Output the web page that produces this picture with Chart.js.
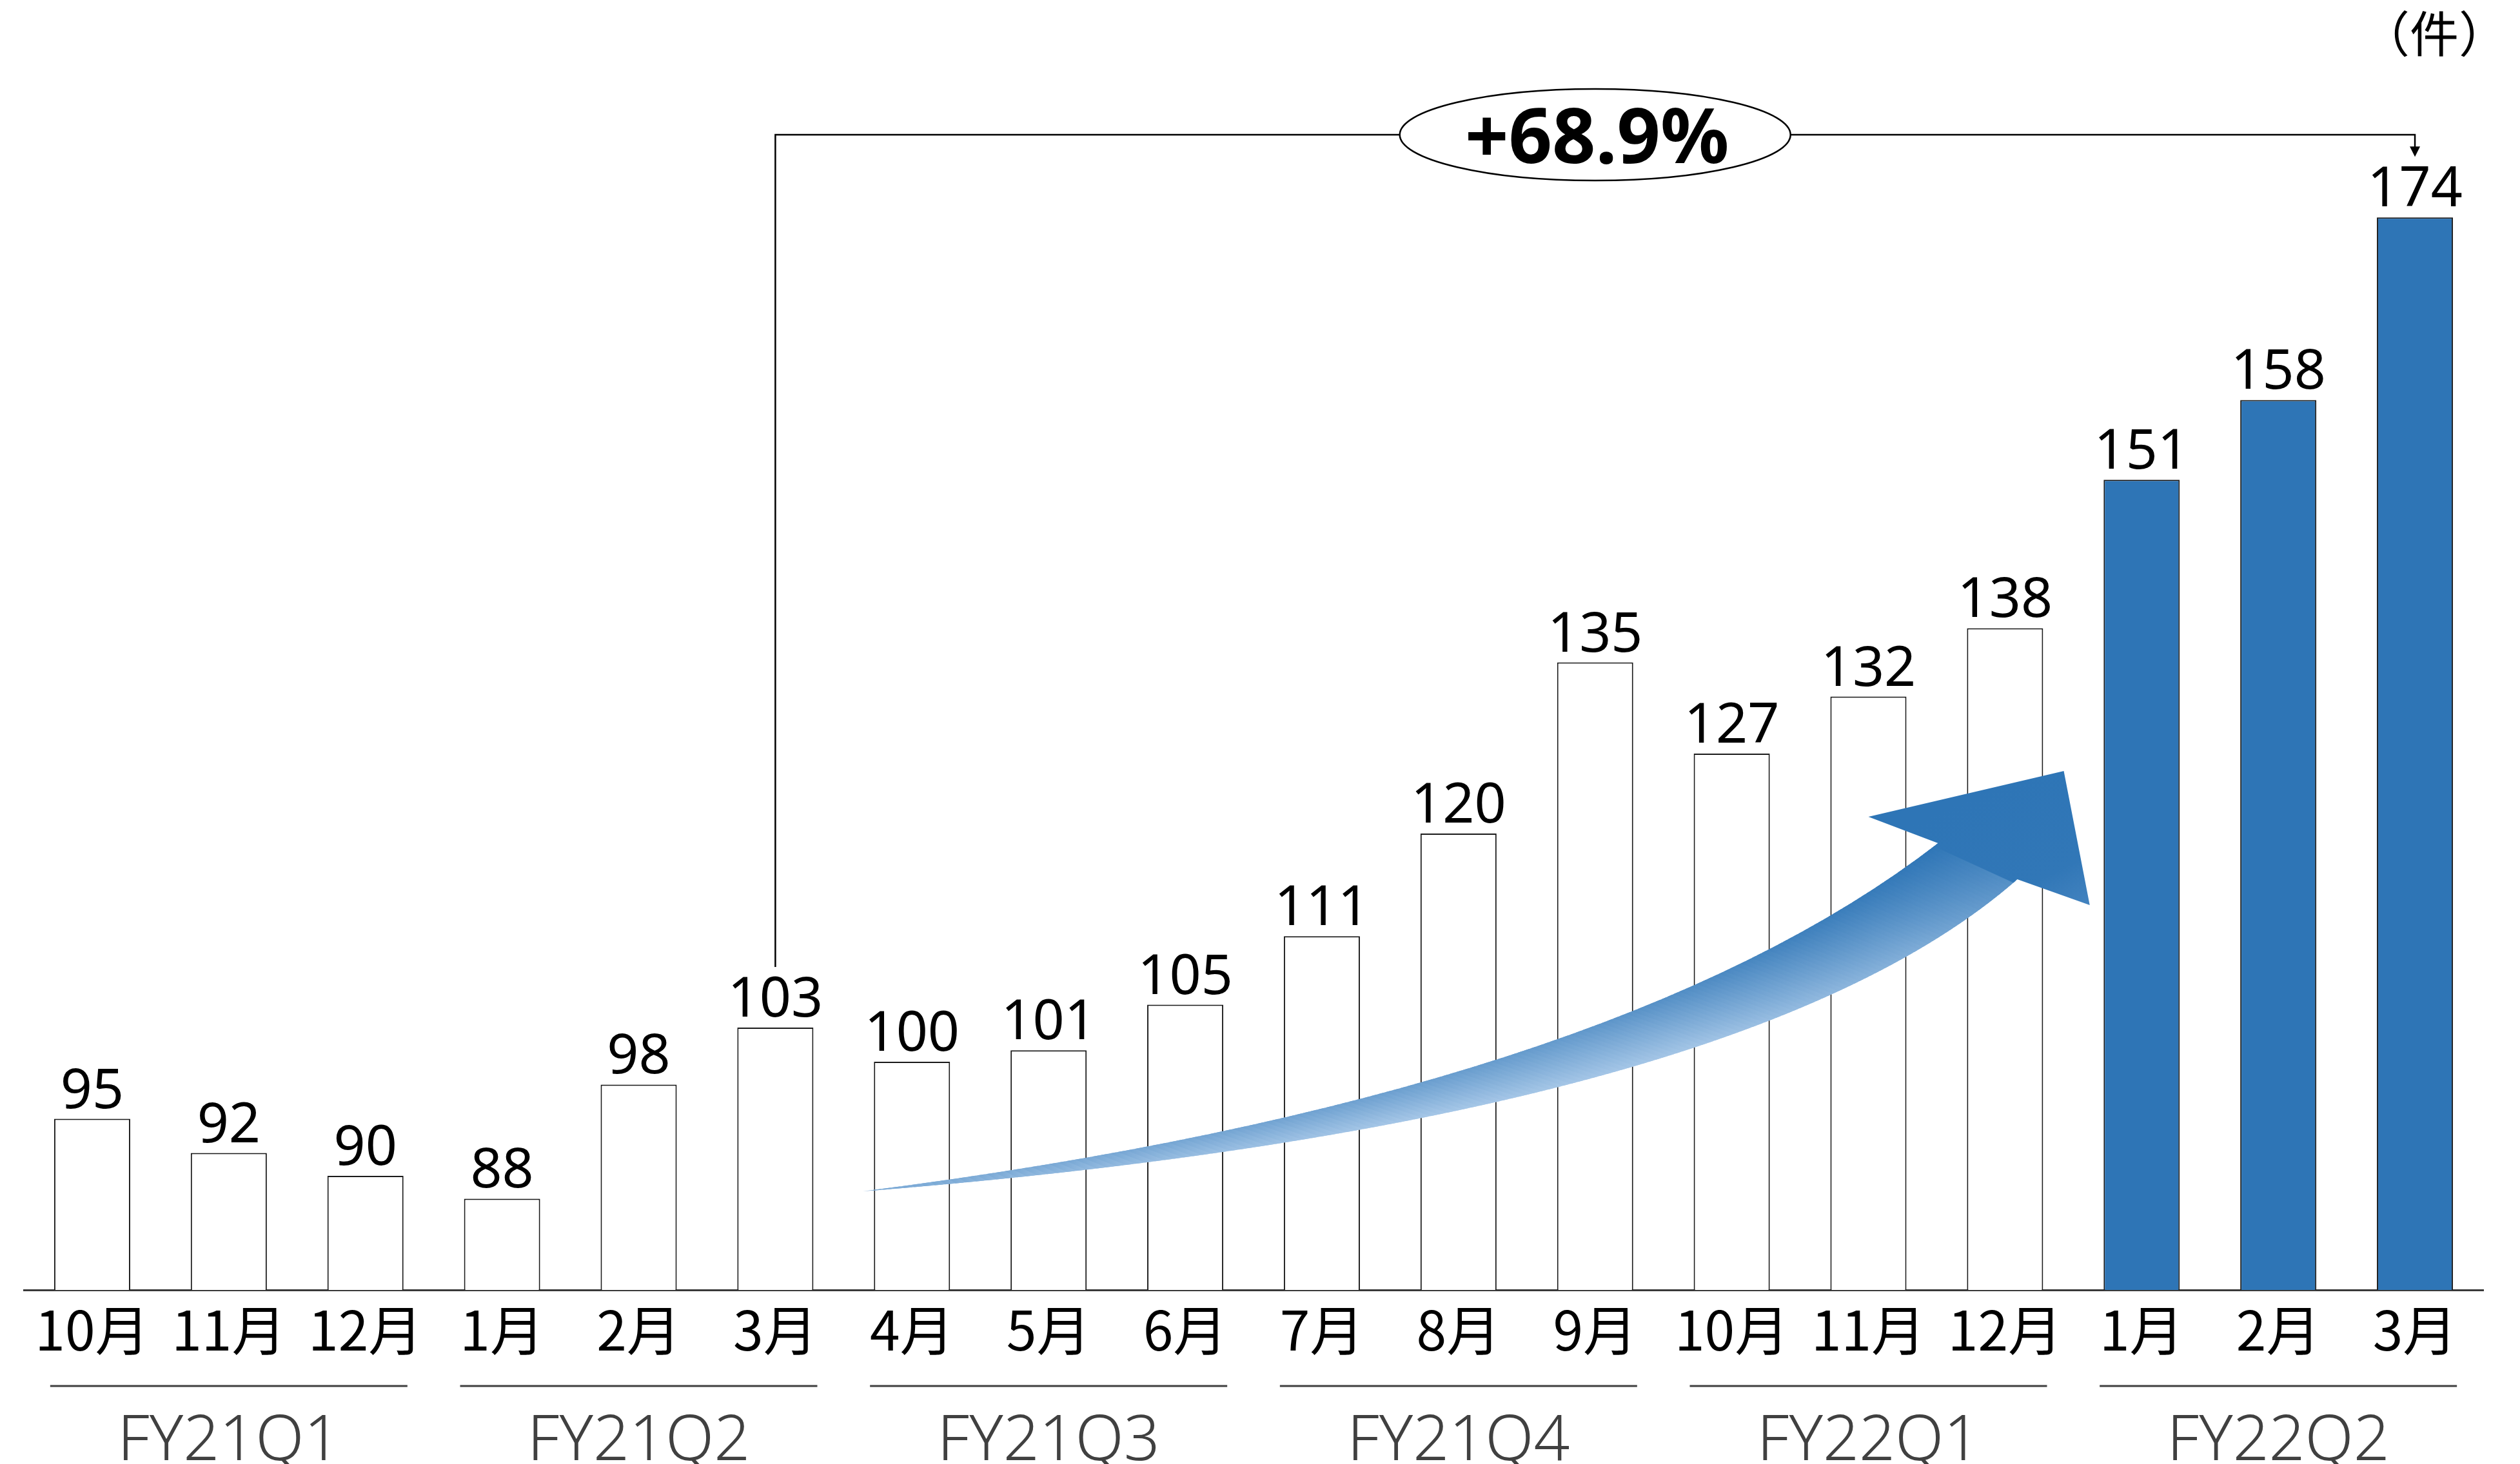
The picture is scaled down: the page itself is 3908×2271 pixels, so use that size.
<!DOCTYPE html>
<html lang="ja">
<head>
<meta charset="utf-8">
<title>月別件数の推移</title>
<script src="https://cdn.jsdelivr.net/npm/chart.js@4.4.1/dist/chart.umd.min.js"></script>
<style>
  html, body { margin: 0; padding: 0; background: #ffffff; }
  canvas { display: block; }
</style>
</head>
<body>
<canvas id="chart" width="3908" height="2271"></canvas>
<script>
// ---- data ----
const months = ['10月', '11月', '12月', '1月', '2月', '3月', '4月', '5月', '6月',
                '7月', '8月', '9月', '10月', '11月', '12月', '1月', '2月', '3月'];
const counts = [95, 92, 90, 88, 98, 103, 100, 101, 105, 111, 120, 135, 127, 132, 138, 151, 158, 174];
const quarters = ['FY21Q1', 'FY21Q2', 'FY21Q3', 'FY21Q4', 'FY22Q1', 'FY22Q2'];
const monthsPerQuarter = 3;
const highlightQuarter = 'FY22Q2';
// growth is measured between these two months (FY21Q2 3月 -> FY22Q2 3月)
const growthFrom = 5;
const growthTo = 17;
const unitLabel = '（件）';
const yMin = 80;
const yMax = 190;

// ---- styles ----
const BLUE = '#2E75B6';
const INK = '#000000';
const GREY = '#404040';
const DARK_RGB = [46, 117, 182];
const LIGHT_RGB = [178, 207, 236];

const barColors = counts.map((_, i) =>
  quarters[Math.floor(i / monthsPerQuarter)] === highlightQuarter ? BLUE : '#FFFFFF');

// Trend arrow outline, in axis units: [category index, value]
const trendArrow = {
  tail:      [5.64, 88.64],
  upperCtrl: [11.12, 97.0],
  upperEnd:  [13.51, 119.15],
  lowerCtrl: [12.07, 94.75],
  lowerEnd:  [14.09, 115.99],
  barbUpper: [13.0, 121.47],
  tip:       [14.43, 125.48],
  barbLower: [14.62, 113.73]
};
// shading (0 = dark, 1 = light) along the arrow, for its upper and lower edge
const upperShade = [[0, 0.58], [0.3, 0.47], [0.55, 0.38], [0.8, 0.12], [1, 0]];
const lowerShade = [[0, 0.58], [0.1, 0.78], [0.35, 0.95], [0.6, 0.91], [0.85, 0.62], [1, 0.3]];

function shadeAt(table, s) {
  for (let k = 1; k < table.length; k++) {
    if (s <= table[k][0]) {
      const [s0, v0] = table[k - 1], [s1, v1] = table[k];
      return v0 + (v1 - v0) * (s - s0) / (s1 - s0);
    }
  }
  return table[table.length - 1][1];
}
function mixColor(f) {
  const c = DARK_RGB.map((d, i) => Math.round(d + (LIGHT_RGB[i] - d) * f));
  return `rgb(${c[0]},${c[1]},${c[2]})`;
}
function quadPoint(p0, c, p1, t) {
  const u = 1 - t;
  return [u * u * p0[0] + 2 * u * t * c[0] + t * t * p1[0],
          u * u * p0[1] + 2 * u * t * c[1] + t * t * p1[1]];
}
function quadNormal(p0, c, p1, t) {
  const tx = 2 * (1 - t) * (c[0] - p0[0]) + 2 * t * (p1[0] - c[0]);
  const ty = 2 * (1 - t) * (c[1] - p0[1]) + 2 * t * (p1[1] - c[1]);
  const len = Math.hypot(tx, ty) || 1;
  return [-ty / len, tx / len];
}

function drawTrendArrow(ctx, xs, ys) {
  const P = k => [xs.getPixelForValue(trendArrow[k][0]), ys.getPixelForValue(trendArrow[k][1])];
  const T = P('tail'), CU = P('upperCtrl'), U = P('upperEnd');
  const CL = P('lowerCtrl'), L = P('lowerEnd');
  const BU = P('barbUpper'), TIP = P('tip'), BL = P('barbLower');

  // body: clipped to its outline, filled strip by strip
  ctx.save();
  ctx.beginPath();
  ctx.moveTo(T[0], T[1]);
  ctx.quadraticCurveTo(CU[0], CU[1], U[0], U[1]);
  ctx.lineTo(L[0], L[1]);
  ctx.quadraticCurveTo(CL[0], CL[1], T[0], T[1]);
  ctx.closePath();
  ctx.clip();
  const N = 160, EXT = 6;
  for (let k = 0; k < N; k++) {
    const t0 = k / N, t1 = Math.min(1, (k + 1.8) / N), tm = (k + 0.5) / N;
    const n0 = quadNormal(T, CU, U, t0), n1 = quadNormal(T, CU, U, t1), nm = quadNormal(T, CU, U, tm);
    const a0 = quadPoint(T, CU, U, t0), a1 = quadPoint(T, CU, U, t1);
    const b0 = quadPoint(T, CL, L, t0), b1 = quadPoint(T, CL, L, t1);
    const pu = quadPoint(T, CU, U, tm), pl = quadPoint(T, CL, L, tm);
    let g;
    if (Math.hypot(pl[0] - pu[0], pl[1] - pu[1]) < 1) {
      g = ctx.createLinearGradient(pu[0] - nm[0], pu[1] - nm[1], pu[0] + nm[0], pu[1] + nm[1]);
    } else {
      g = ctx.createLinearGradient(pu[0], pu[1], pl[0], pl[1]);
    }
    g.addColorStop(0, mixColor(shadeAt(upperShade, tm)));
    g.addColorStop(1, mixColor(shadeAt(lowerShade, tm)));
    ctx.fillStyle = g;
    ctx.beginPath();
    ctx.moveTo(a0[0] - n0[0] * EXT, a0[1] - n0[1] * EXT);
    ctx.lineTo(a1[0] - n1[0] * EXT, a1[1] - n1[1] * EXT);
    ctx.lineTo(b1[0] + n1[0] * EXT, b1[1] + n1[1] * EXT);
    ctx.lineTo(b0[0] + n0[0] * EXT, b0[1] + n0[1] * EXT);
    ctx.closePath();
    ctx.fill();
  }
  ctx.restore();

  // head, reaching slightly back into the body to hide the joint
  const du = [U[0] - CU[0], U[1] - CU[1]], dl = [L[0] - CL[0], L[1] - CL[1]];
  const lu = Math.hypot(du[0], du[1]), ll = Math.hypot(dl[0], dl[1]);
  const U2 = [U[0] - du[0] / lu * 8, U[1] - du[1] / lu * 8];
  const L2 = [L[0] - dl[0] / ll * 8, L[1] - dl[1] / ll * 8];
  const hg = ctx.createLinearGradient(TIP[0] - 60, TIP[1], BL[0], BL[1]);
  hg.addColorStop(0, mixColor(0));
  hg.addColorStop(0.7, mixColor(0.02));
  hg.addColorStop(1, mixColor(0.16));
  ctx.fillStyle = hg;
  ctx.beginPath();
  ctx.moveTo(U2[0], U2[1]);
  ctx.lineTo(U[0], U[1]);
  ctx.lineTo(BU[0], BU[1]);
  ctx.lineTo(TIP[0], TIP[1]);
  ctx.lineTo(BL[0], BL[1]);
  ctx.lineTo(L[0], L[1]);
  ctx.lineTo(L2[0], L2[1]);
  ctx.closePath();
  ctx.fill();
}

const LABEL_GAP = 17;   // space between a bar top and its value
const DIGIT_H = 62;     // ink height of the value digits
const BRACKET_GAP = 15; // space between a value and the growth bracket
const BRACKET_Y = 209;

const decorations = {
  id: 'decorations',
  afterDraw(chart) {
    const ctx = chart.ctx;
    const xs = chart.scales.x, ys = chart.scales.y;
    const bars = chart.getDatasetMeta(0).data;

    drawTrendArrow(ctx, xs, ys);

    // values above the bars
    ctx.save();
    ctx.fillStyle = INK;
    ctx.font = '86px "Noto Sans", "Noto Sans CJK JP", sans-serif';
    ctx.textAlign = 'center';
    ctx.textBaseline = 'alphabetic';
    bars.forEach((bar, i) => ctx.fillText(String(counts[i]), bar.x, bar.y - LABEL_GAP));
    ctx.restore();

    // growth bracket between the two March bars
    const bFrom = bars[growthFrom], bTo = bars[growthTo];
    const yFrom = bFrom.y - LABEL_GAP - DIGIT_H - BRACKET_GAP;
    const yTo = bTo.y - LABEL_GAP - DIGIT_H - BRACKET_GAP;
    ctx.save();
    ctx.strokeStyle = INK;
    ctx.fillStyle = INK;
    ctx.lineWidth = 2.5;
    ctx.beginPath();
    ctx.moveTo(bFrom.x, yFrom);
    ctx.lineTo(bFrom.x, BRACKET_Y);
    ctx.lineTo(bTo.x, BRACKET_Y);
    ctx.lineTo(bTo.x, yTo - 14);
    ctx.stroke();
    ctx.beginPath();
    ctx.moveTo(bTo.x - 8, yTo - 16);
    ctx.lineTo(bTo.x + 8, yTo - 16);
    ctx.lineTo(bTo.x, yTo);
    ctx.closePath();
    ctx.fill();

    const cx = (bFrom.x + bTo.x) / 2;
    ctx.beginPath();
    ctx.ellipse(cx, BRACKET_Y, 303, 71, 0, 0, Math.PI * 2);
    ctx.fillStyle = '#ffffff';
    ctx.fill();
    ctx.stroke();

    const growth = (counts[growthTo] / counts[growthFrom] - 1) * 100;
    ctx.fillStyle = INK;
    ctx.font = 'bold 118px "Noto Sans", sans-serif';
    ctx.textAlign = 'center';
    ctx.textBaseline = 'alphabetic';
    ctx.fillText('+' + growth.toFixed(1) + '%', cx + 3, BRACKET_Y + 44);
    ctx.restore();

    // quarter groups under the month labels
    ctx.save();
    ctx.strokeStyle = GREY;
    ctx.fillStyle = GREY;
    ctx.lineWidth = 3;
    ctx.font = '300 98px "Noto Sans", sans-serif';
    ctx.textAlign = 'center';
    ctx.textBaseline = 'alphabetic';
    quarters.forEach((q, qi) => {
      const mid = xs.getPixelForValue(qi * monthsPerQuarter + (monthsPerQuarter - 1) / 2);
      ctx.beginPath();
      ctx.moveTo(mid - 277, 2150);
      ctx.lineTo(mid + 277, 2150);
      ctx.stroke();
      ctx.fillText(q, mid, 2265);
    });
    ctx.restore();

    // unit
    ctx.save();
    ctx.fillStyle = INK;
    ctx.font = '76px "Noto Sans CJK JP", sans-serif';
    ctx.textAlign = 'right';
    ctx.textBaseline = 'alphabetic';
    ctx.fillText(unitLabel, 3889, 81);
    ctx.restore();
  }
};

new Chart(document.getElementById('chart'), {
  type: 'bar',
  data: {
    labels: months,
    datasets: [{
      data: counts,
      backgroundColor: barColors,
      borderColor: '#1a1a1a',
      borderWidth: 2,
      borderSkipped: 'start',
      barPercentage: 0.557,
      categoryPercentage: 1
    }]
  },
  options: {
    responsive: false,
    devicePixelRatio: 1,
    animation: false,
    layout: { padding: { left: 37, right: 57, top: 54, bottom: 0 } },
    plugins: {
      legend: { display: false },
      tooltip: { enabled: false },
      title: { display: false }
    },
    scales: {
      x: {
        z: 1,
        grid: { display: false, drawTicks: false },
        border: { display: true, color: '#3a3a3a', width: 3 },
        ticks: {
          color: INK,
          font: { family: '"Noto Sans CJK JP", "Noto Sans", sans-serif', size: 84 },
          padding: 12,
          autoSkip: false,
          maxRotation: 0,
          minRotation: 0
        },
        afterFit(axis) { axis.height = 270; }
      },
      y: { display: false, min: yMin, max: yMax }
    }
  },
  plugins: [decorations]
});
</script>
</body>
</html>
